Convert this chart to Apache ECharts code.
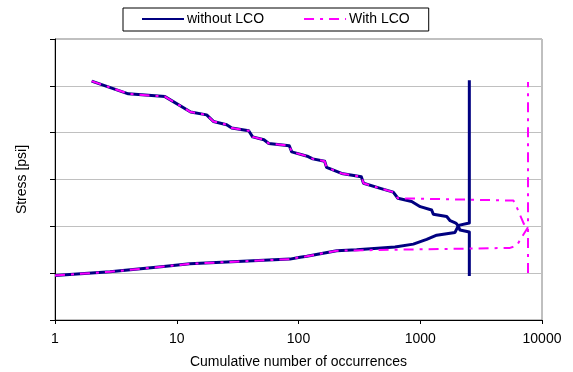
<!DOCTYPE html>
<html>
<head>
<meta charset="utf-8">
<script src="https://cdn.jsdelivr.net/npm/echarts@6/dist/echarts.min.js"></script>
<style>
  html, body { margin: 0; padding: 0; background: #fff; }
  #chart { width: 573px; height: 372px; }
</style>
</head>
<body>
<div id="chart"></div>
<script>
// upper curve (from high stress downwards), shared by both cases
const upperX = [2, 4, 8, 13, 17.6, 20, 25.7, 28.3, 39, 42, 52, 57, 84, 88, 120, 131, 164, 170, 226, 328, 342, 470, 600, 655];
const upperY = [5.10, 4.83, 4.77, 4.44, 4.38, 4.24, 4.17, 4.10, 4.04, 3.91, 3.85, 3.77, 3.72, 3.59, 3.49, 3.44, 3.39, 3.26, 3.13, 3.06, 2.92, 2.81, 2.73, 2.60];
// lower curve (from low stress upwards), shared by both cases
const lowerX = [1, 2.83, 7.8, 12.8, 85, 103, 117, 206];
const lowerY = [0.95, 1.03, 1.14, 1.20, 1.30, 1.34, 1.36, 1.48];

// without LCO: tails after the shared parts
const noLcoUpperX = [850, 1000, 1240, 1280, 1650, 1760, 1960, 2040, 2120, 2530, 2530];
const noLcoUpperY = [2.53, 2.42, 2.35, 2.26, 2.21, 2.12, 2.07, 2.02, 1.92, 1.88, 0.94];
const noLcoLowerX = [300, 620, 877, 1130, 1365, 1930, 2060, 2530, 2530];
const noLcoLowerY = [1.50, 1.56, 1.62, 1.72, 1.81, 1.87, 2.02, 2.07, 5.12];

// with LCO: tails after the shared parts
const lcoUpperX = [5820, 6200, 6600, 7100, 7675, 7675];
const lcoUpperY = [2.55, 2.41, 2.24, 2.05, 1.98, 0.94];
const lcoLowerX = [5460, 6200, 6830, 7675, 7675];
const lcoLowerY = [1.54, 1.59, 1.77, 1.98, 5.08];

const xTicks = [1, 10, 100, 1000, 10000];

function pts(xs, ys) {
  return xs.map((x, i) => [x, ys[i]]);
}

const navy = '#000080';
const magenta = '#FF00FF';
const font = '"Liberation Sans", Arial, sans-serif';

const chart = echarts.init(document.getElementById('chart'));

function lineSeries(name, data, color, width, type) {
  return {
    name: name,
    type: 'line',
    data: data,
    symbol: 'none',
    color: color,
    lineStyle: { color: color, width: width, type: type, join: 'round' },
    animation: false
  };
}

const dash = [10, 6, 3, 6];

chart.setOption({
  animation: false,
  textStyle: { fontFamily: font },
  grid: {
    left: 55, right: 31, top: 39, bottom: 52,
    containLabel: false,
    outerBoundsMode: 'none',
    show: true, borderColor: '#808080', borderWidth: 1
  },
  legend: {
    data: ['without LCO', 'With LCO'],
    left: 123, top: 8,
    padding: [4, 19, 5, 18],
    itemGap: 39,
    itemWidth: 42,
    itemHeight: 14,
    borderColor: '#000', borderWidth: 1,
    backgroundColor: '#fff',
    itemStyle: { opacity: 0 },
    textStyle: { fontSize: 14, color: '#000', fontFamily: font, padding: [0, 0, 0, -2] }
  },
  xAxis: {
    type: 'log',
    logBase: 10,
    min: xTicks[0],
    max: xTicks[xTicks.length - 1],
    name: 'Cumulative number of occurrences',
    nameLocation: 'middle',
    nameGap: 35,
    nameTextStyle: { fontSize: 14, color: '#000', fontFamily: font },
    axisLine: { lineStyle: { color: '#000', width: 1 } },
    axisTick: { show: true, inside: false, length: 4, lineStyle: { color: '#000' } },
    minorTick: { show: false },
    splitLine: { show: false },
    axisLabel: {
      fontSize: 14, color: '#000', fontFamily: font, margin: 12,
      formatter: v => String(Math.round(v))
    }
  },
  yAxis: {
    type: 'value',
    min: 0, max: 6, interval: 1,
    name: 'Stress [psi]',
    nameLocation: 'middle',
    nameGap: 26,
    nameTextStyle: { fontSize: 14, color: '#000', fontFamily: font },
    axisLine: { show: true, lineStyle: { color: '#000', width: 1 } },
    axisTick: { show: true, inside: false, length: 5, lineStyle: { color: '#000' } },
    axisLabel: { show: false },
    splitLine: { show: true, lineStyle: { color: '#c0c0c0', width: 1 } }
  },
  series: [
    lineSeries('without LCO', pts(upperX.concat(noLcoUpperX), upperY.concat(noLcoUpperY)), navy, 3, 'solid'),
    lineSeries('without LCO', pts(lowerX.concat(noLcoLowerX), lowerY.concat(noLcoLowerY)), navy, 3, 'solid'),
    lineSeries('With LCO', pts(upperX.concat(lcoUpperX), upperY.concat(lcoUpperY)), magenta, 2, dash),
    lineSeries('With LCO', pts(lowerX.concat(lcoLowerX), lowerY.concat(lcoLowerY)), magenta, 2, dash)
  ]
});
</script>
</body>
</html>
